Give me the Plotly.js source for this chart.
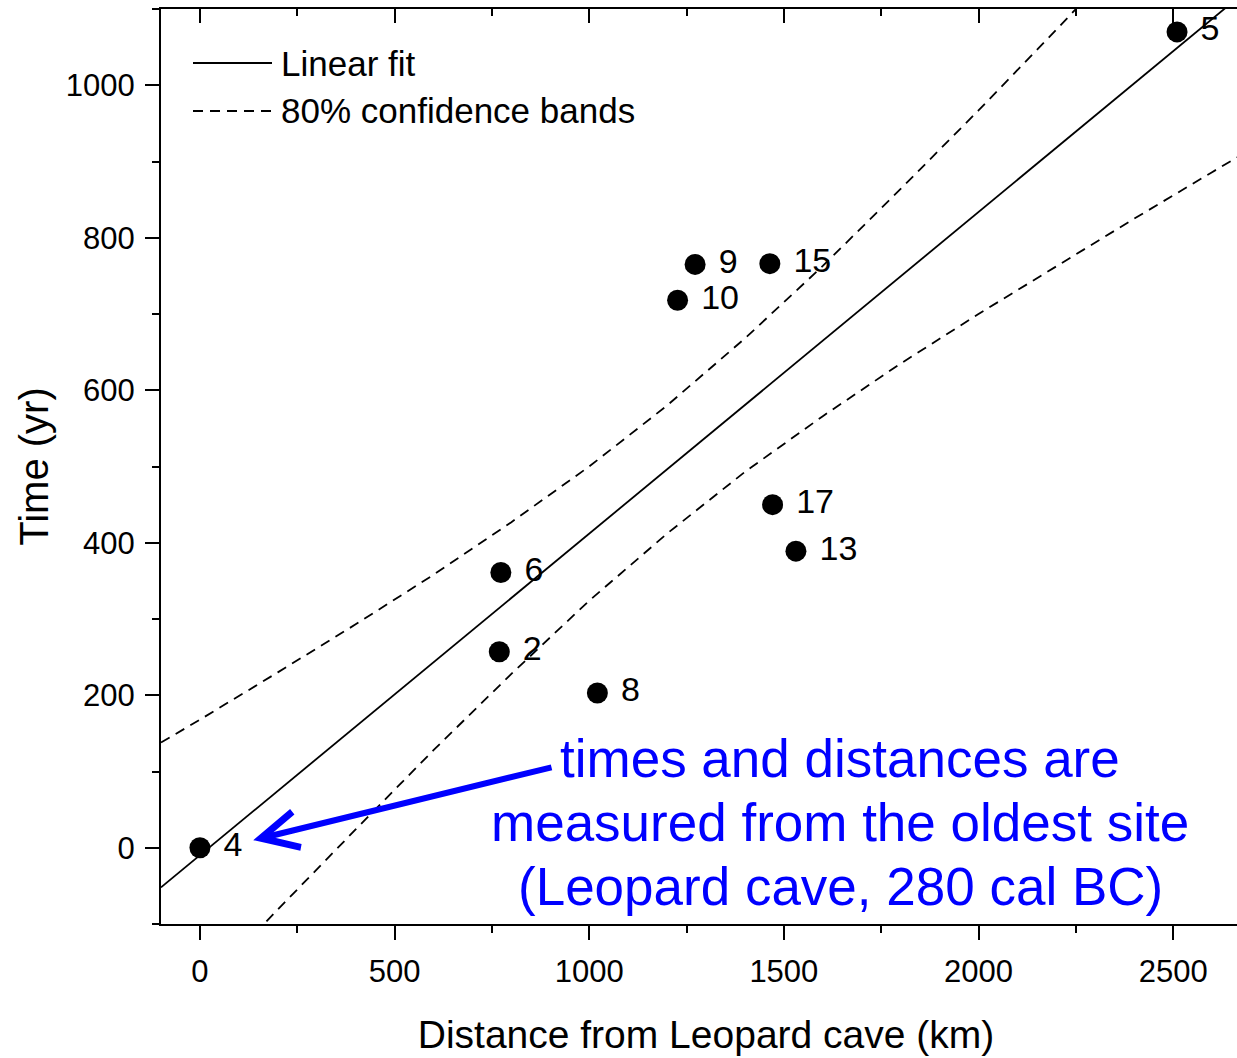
<!DOCTYPE html>
<html>
<head>
<meta charset="utf-8">
<script src="https://cdn.plot.ly/plotly-3.0.1.min.js"></script>
<style>
html,body{margin:0;padding:0;overflow:hidden;background:#fff;}
#chart{width:1256px;height:1058px;}
</style>
</head>
<body>
<div id="chart"></div>
<script>
// Sites: distance from Leopard cave (km) and time (yr)
const siteLabels = ["4", "5", "6", "2", "8", "9", "15", "10", "17", "13"];
const siteDistance = [0, 2510, 773, 769, 1021, 1272, 1464, 1227, 1471, 1531];
const siteTime = [0, 1070, 361, 257, 203, 765, 766, 718, 450, 389];

// Linear fit end points
const fitX = [-100, 2700];
const fitY = [-52, 1129];

// 80% confidence bands
const bandX = [-100, 0, 200, 400, 600, 800, 1000, 1200, 1400, 1600, 1800, 2000, 2200, 2400, 2600, 2700];
const bandUpper = [138, 168, 230, 293, 358, 427, 500, 580, 668, 763, 864, 967, 1073, 1180, 1287, 1342];
const bandLower = [-242, -188, -81, 24, 128, 228, 324, 412, 493, 566, 635, 700, 763, 825, 886, 916];

const xRange = [-100, 2700];
const yRange = [-100, 1100];

const FONT = "Liberation Sans, Arial, sans-serif";

const traces = [
  {x: bandX, y: bandUpper, mode: "lines", line: {color: "#000", width: 1.8, dash: "10px,7px"}, hoverinfo: "skip", showlegend: false},
  {x: bandX, y: bandLower, mode: "lines", line: {color: "#000", width: 1.8, dash: "10px,7px"}, hoverinfo: "skip", showlegend: false},
  {x: fitX, y: fitY, mode: "lines", line: {color: "#000", width: 1.8}, hoverinfo: "skip", showlegend: false},
  {x: siteDistance, y: siteTime, text: siteLabels, texttemplate: "\u00a0%{text}", mode: "markers+text", textposition: "middle right",
   marker: {color: "#000", size: 21}, textfont: {family: FONT, size: 34, color: "#000"}, cliponaxis: false, showlegend: false},
  {x: [0], y: [0], xaxis: "x2", yaxis: "y2", mode: "markers", marker: {opacity: 0}, hoverinfo: "skip", showlegend: false}
];

const lp = (px) => (px - 161) / 1090;      // paper x from pixel
const tp = (py) => (924 - py) / 915;       // paper y from pixel

const layout = {
  width: 1256, height: 1058,
  margin: {l: 161, r: 5, t: 9, b: 134},
  paper_bgcolor: "#fff", plot_bgcolor: "#fff",
  showlegend: false,
  font: {family: FONT, color: "#000"},
  xaxis: {
    range: xRange, dtick: 500, tick0: 0, showgrid: false, zeroline: false,
    showline: true, linecolor: "#000", linewidth: 2,
    ticks: "outside", ticklen: 14, tickwidth: 2, tickcolor: "#000", ticklabelstandoff: 5,
    minor: {ticks: "outside", ticklen: 7, tickwidth: 2, tickcolor: "#000", dtick: 250, showgrid: false},
    tickfont: {family: FONT, size: 31, color: "#000"},
    title: {text: "Distance from Leopard cave (km)", font: {family: FONT, size: 39, color: "#000"}, standoff: 32}
  },
  yaxis: {
    range: yRange, dtick: 200, tick0: 0, showgrid: false, zeroline: false,
    showline: true, linecolor: "#000", linewidth: 2,
    ticks: "outside", ticklen: 14, tickwidth: 2, tickcolor: "#000", ticklabelstandoff: 4,
    minor: {ticks: "outside", ticklen: 7, tickwidth: 2, tickcolor: "#000", dtick: 100, showgrid: false},
    tickfont: {family: FONT, size: 31, color: "#000"},
    title: {text: "Time (yr)", font: {family: FONT, size: 40, color: "#000"}, standoff: 5}
  },
  xaxis2: {
    overlaying: "x", side: "top", anchor: "y2", range: xRange, dtick: 500, tick0: 0,
    showgrid: false, zeroline: false, showline: true, linecolor: "#000", linewidth: 2,
    ticks: "inside", ticklen: 14, tickwidth: 2, tickcolor: "#000", showticklabels: false,
    minor: {ticks: "inside", ticklen: 7, tickwidth: 2, tickcolor: "#000", dtick: 250, showgrid: false}
  },
  yaxis2: {
    overlaying: "y", side: "right", anchor: "x2", range: yRange, dtick: 200, tick0: 0,
    showgrid: false, zeroline: false, showline: true, linecolor: "#000", linewidth: 2,
    ticks: "inside", ticklen: 14, tickwidth: 2, tickcolor: "#000", showticklabels: false,
    minor: {ticks: "inside", ticklen: 7, tickwidth: 2, tickcolor: "#000", dtick: 100, showgrid: false}
  },
  shapes: [
    {type: "line", xref: "paper", yref: "paper", x0: lp(193), x1: lp(272), y0: tp(63), y1: tp(63), line: {color: "#000", width: 1.8}},
    {type: "line", xref: "paper", yref: "paper", x0: lp(193), x1: lp(272), y0: tp(111), y1: tp(111), line: {color: "#000", width: 1.8, dash: "10px,7px"}}
  ],
  annotations: [
    {xref: "paper", yref: "paper", x: lp(279), y: tp(63), xanchor: "left", yanchor: "middle", showarrow: false,
     text: "Linear fit", font: {family: FONT, size: 35, color: "#000"}},
    {xref: "paper", yref: "paper", x: lp(279), y: tp(111), xanchor: "left", yanchor: "middle", showarrow: false,
     text: "80% confidence bands", font: {family: FONT, size: 35, color: "#000"}},
    {xref: "x", yref: "y", axref: "x", ayref: "y", x: 137, y: 10, ax: 907, ay: 106, text: "",
     showarrow: true, arrowhead: 5, arrowsize: 1.2, arrowwidth: 6, arrowcolor: "#0000ff", standoff: 0},
    {xref: "paper", yref: "paper", x: lp(840), y: tp(758), xanchor: "center", yanchor: "middle", showarrow: false,
     text: "times and distances are", font: {family: FONT, size: 53, color: "#0000ff"}},
    {xref: "paper", yref: "paper", x: lp(840), y: tp(822), xanchor: "center", yanchor: "middle", showarrow: false,
     text: "measured from the oldest site", font: {family: FONT, size: 53, color: "#0000ff"}},
    {xref: "paper", yref: "paper", x: lp(840), y: tp(886), xanchor: "center", yanchor: "middle", showarrow: false,
     text: "(Leopard cave, 280 cal BC)", font: {family: FONT, size: 53, color: "#0000ff"}}
  ]
};

Plotly.newPlot("chart", traces, layout, {displayModeBar: false, staticPlot: true});
</script>
</body>
</html>
